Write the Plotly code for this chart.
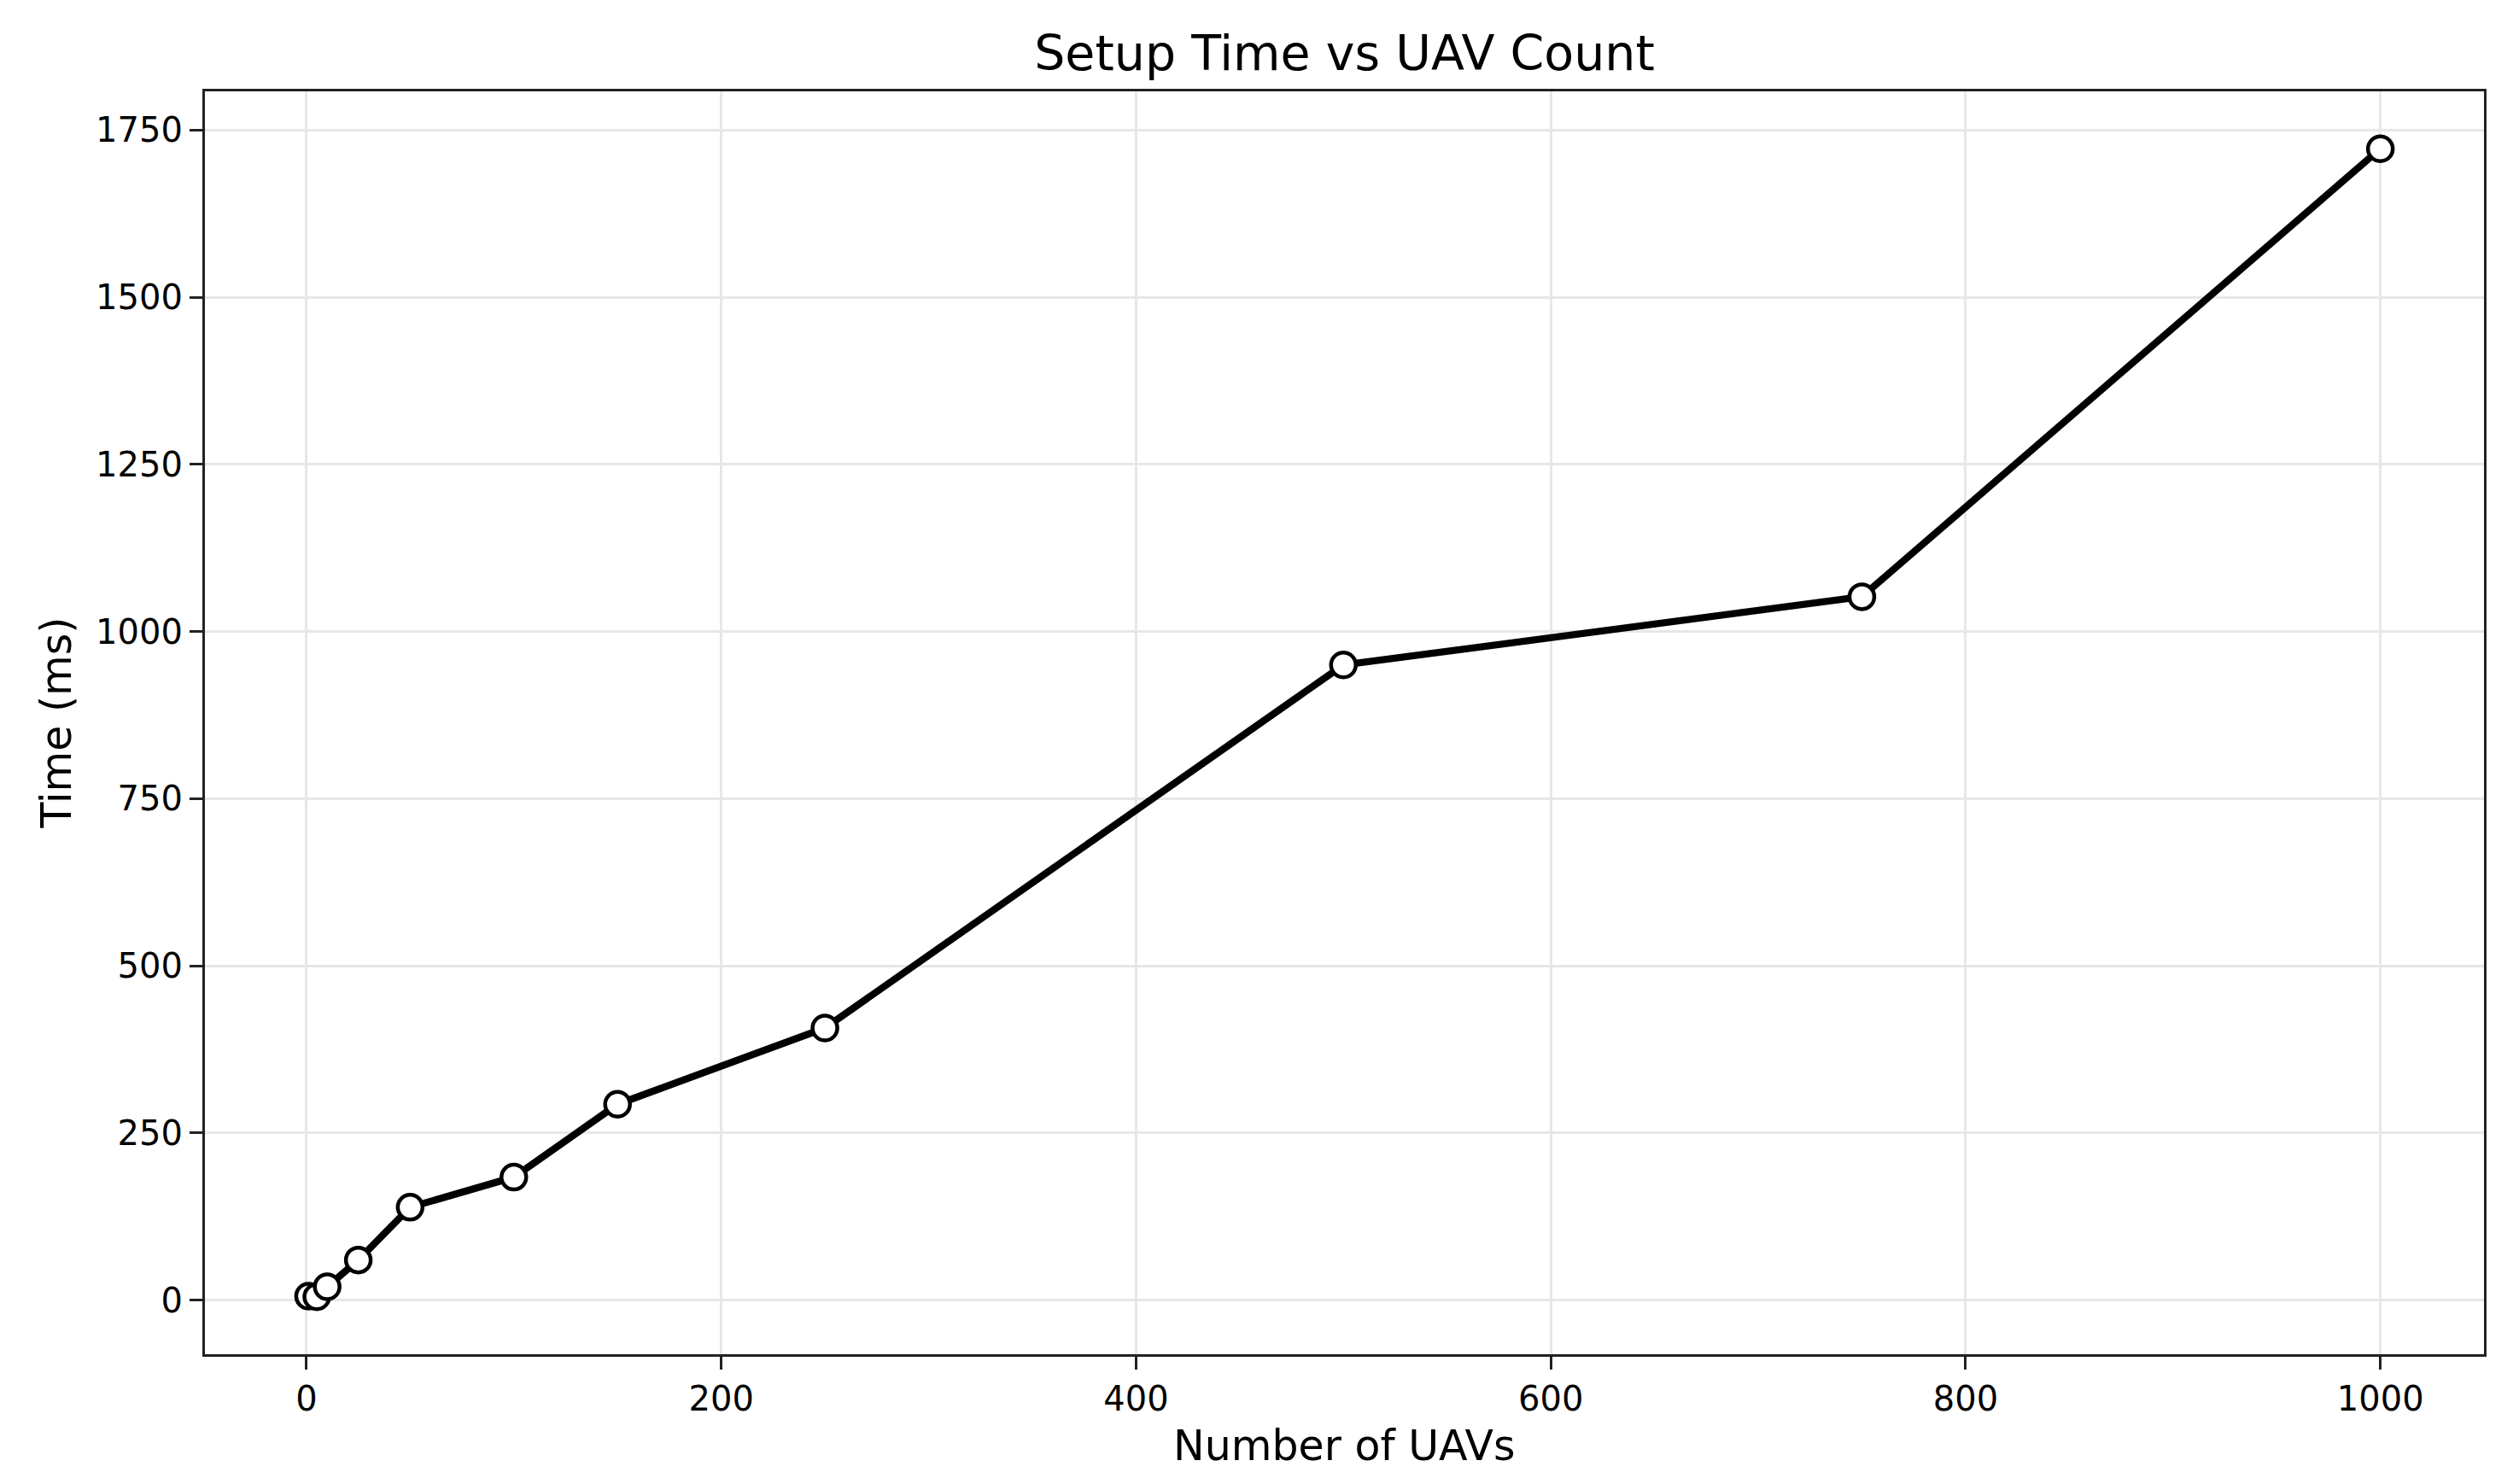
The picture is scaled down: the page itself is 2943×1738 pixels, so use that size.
import plotly.graph_objects as go

uav_counts = [1, 5, 10, 25, 50, 100, 150, 250, 500, 750, 1000]
setup_time_ms = [6, 5, 20, 60, 139, 184, 293, 407, 950, 1052, 1722]
x_ticks = [0, 200, 400, 600, 800, 1000]
y_ticks = [0, 250, 500, 750, 1000, 1250, 1500, 1750]

W, H = 2943, 1738
OFF = 8  # browser default body margin
L, R, T, B = 240, 34, 107, 152
FONT = "DejaVu Sans"

def mpl_range(vals, m=0.05):
    lo, hi = min(vals), max(vals)
    d = (hi - lo) * m
    return [lo - d, hi + d]

fig = go.Figure()
fig.add_trace(go.Scatter(
    x=uav_counts, y=setup_time_ms, mode="lines+markers",
    line=dict(color="black", width=8.3),
    marker=dict(symbol="circle", size=29, color="white",
                line=dict(color="black", width=4.5)),
    showlegend=False,
))

axis_common = dict(
    showline=True, linecolor="#222222", linewidth=3.3, mirror=True,
    showgrid=True, gridcolor="#e7e7e7", gridwidth=3,
    zeroline=False, ticks="outside", ticklen=15, tickwidth=3.3,
    tickcolor="#222222",
    tickfont=dict(family=FONT, size=40, color="black"),
    automargin=False,
)

FW, FH = W - 2 * OFF, H - 2 * OFF
fig.update_layout(
    width=FW, height=FH,
    margin=dict(l=L - OFF, r=R - OFF, t=T - OFF, b=B - OFF, autoexpand=False),
    paper_bgcolor="white", plot_bgcolor="white",
    font=dict(family=FONT, color="black"),
    title=dict(text="Setup Time vs UAV Count", x=0.5, xref="paper",
               xanchor="center", y=1 - (62 - OFF) / FH, yref="container",
               yanchor="middle", font=dict(family=FONT, size=57, color="black")),
    xaxis=dict(range=mpl_range(uav_counts), tickvals=x_ticks,
               ticktext=[str(v) for v in x_ticks], **axis_common),
    yaxis=dict(range=mpl_range(setup_time_ms), tickvals=y_ticks,
               ticktext=[str(v) for v in y_ticks], **axis_common),
)

plot_h = H - T - B
plot_w = W - L - R
fig.add_annotation(text="Number of UAVs", xref="paper", yref="paper",
                   x=0.5, y=(H - B - 1693) / plot_h, xanchor="center",
                   yanchor="middle", showarrow=False,
                   font=dict(family=FONT, size=49, color="black"))
fig.add_annotation(text="Time (ms)", xref="paper", yref="paper",
                   x=(66 - L) / plot_w, y=0.5, xanchor="center",
                   yanchor="middle", textangle=-90, showarrow=False,
                   font=dict(family=FONT, size=49, color="black"))

fig.write_html("out.html")
